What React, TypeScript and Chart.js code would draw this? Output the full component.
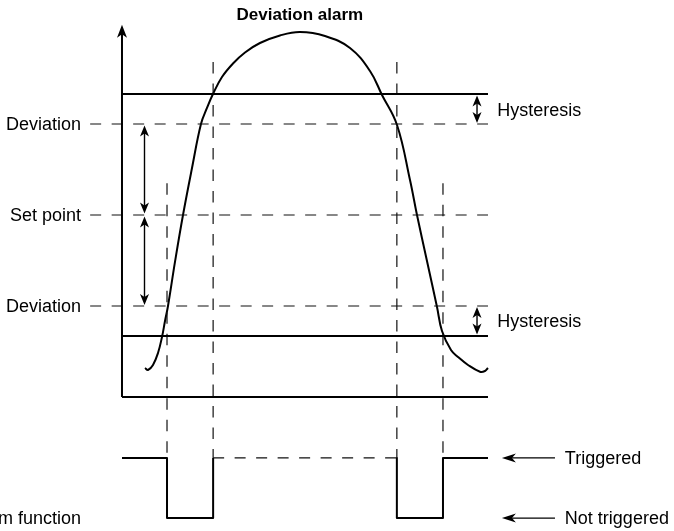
import { useEffect, useRef } from 'react';
import { Chart, registerables } from 'chart.js';

Chart.register(...registerables);

// ---- data (time units on x, process value units on y; set point = 0, deviation = 1) ----
const SET_POINT = 0;
const DEVIATION = 1;
const HYSTERESIS = 0.33;
const AXIS_BOTTOM = -2;
const AXIS_TOP = 2.09;
const TIME_START = 0;
const TIME_END = 100;
const DASH_START = -8.7;
const OUT_TRIGGERED = -2.67;
const OUT_NOT_TRIGGERED = -3.33;

const eventTimes = [12.3, 24.9, 75.1, 87.7];
const eventLineTops = [0.35, 1.68, 1.68, 0.35];

const curveTime = [6.28, 7.1, 8.47, 9.84, 10.93, 11.75, 12.57, 14.48, 16.67, 19.13, 21.58, 23.22, 24.86, 27.32, 30.33, 33.61, 37.7, 43.17, 48.63, 55.46, 62.3, 67.76, 71.04, 75.14, 78.69, 80.6, 83.33, 86.07, 87.43, 89.89, 91.8, 94.54, 97.81, 99.18, 100];
const curveValue = [-1.681, -1.703, -1.648, -1.516, -1.341, -1.165, -1.0, -0.516, 0, 0.516, 1.0, 1.176, 1.33, 1.516, 1.665, 1.786, 1.89, 1.973, 2.011, 1.967, 1.835, 1.582, 1.319, 0.989, 0.385, 0, -0.505, -1.011, -1.275, -1.484, -1.56, -1.648, -1.722, -1.714, -1.681];

const levelLabels = ['Deviation', 'Set point', 'Deviation'];
const levelValues = [SET_POINT + DEVIATION, SET_POINT, SET_POINT - DEVIATION];

const outputLabels = ['Triggered', 'Not triggered'];
const outputValues = [OUT_TRIGGERED, OUT_NOT_TRIGGERED];

const TITLE = 'Deviation alarm';
const FOOTER = 'Alarm function';

// scale ranges (whole canvas is the plot area)
const X_MIN = -33.33;
const X_MAX = 150.82;
const Y_MIN = -3.4725;
const Y_MAX = 2.3626;

const FONT = '"Liberation Sans", Arial, Helvetica, sans-serif';

const seg = (pts: number[][]) => pts.map(([x, y]) => ({ x, y }));

function arrowHead(ctx: CanvasRenderingContext2D, tx: number, ty: number, dx: number, dy: number, len: number, hw: number) {
  const px = -dy, py = dx;
  const bx = tx - dx * len, by = ty - dy * len;
  const nx = tx - dx * len * 0.72, ny = ty - dy * len * 0.72;
  ctx.beginPath();
  ctx.moveTo(tx, ty);
  ctx.lineTo(bx + px * hw, by + py * hw);
  ctx.lineTo(nx, ny);
  ctx.lineTo(bx - px * hw, by - py * hw);
  ctx.closePath();
  ctx.fill();
}

function vDoubleArrow(ctx: CanvasRenderingContext2D, x: number, y1: number, y2: number, len: number, hw: number) {
  ctx.beginPath();
  ctx.moveTo(x, y1 + 4);
  ctx.lineTo(x, y2 - 4);
  ctx.stroke();
  arrowHead(ctx, x, y1, 0, -1, len, hw);
  arrowHead(ctx, x, y2, 0, 1, len, hw);
}

const overlay = {
  id: 'overlay',
  afterDatasetsDraw(chart: any) {
    const ctx: CanvasRenderingContext2D = chart.ctx;
    const xs = chart.scales.x, ys = chart.scales.y;
    const X = (v: number) => xs.getPixelForValue(v);
    const Y = (v: number) => ys.getPixelForValue(v);
    ctx.save();
    ctx.fillStyle = '#000';
    ctx.strokeStyle = '#000';

    // y-axis arrow head
    arrowHead(ctx, X(TIME_START), Y(AXIS_TOP), 0, -1, 13, 5);

    // deviation arrows
    ctx.lineWidth = 1.4;
    const ax = X(6.15);
    vDoubleArrow(ctx, ax, Y(SET_POINT + DEVIATION) + 1.5, Y(SET_POINT) - 1.5, 11, 4.5);
    vDoubleArrow(ctx, ax, Y(SET_POINT) + 1.5, Y(SET_POINT - DEVIATION) - 1, 11, 4.5);

    // hysteresis arrows
    const hx = X(97.0);
    vDoubleArrow(ctx, hx, Y(SET_POINT + DEVIATION + HYSTERESIS) + 1.5, Y(SET_POINT + DEVIATION) - 1, 11, 4.5);
    vDoubleArrow(ctx, hx, Y(SET_POINT - DEVIATION) + 1, Y(SET_POINT - DEVIATION - HYSTERESIS) - 1.5, 11, 4.5);

    // output arrows
    ctx.lineWidth = 1.3;
    outputValues.forEach((v) => {
      const y = Y(v);
      ctx.beginPath();
      ctx.moveTo(X(118.3), y);
      ctx.lineTo(X(106), y);
      ctx.stroke();
      arrowHead(ctx, X(103.8), y, -1, 0, 14, 4.5);
    });

    // texts
    ctx.font = `18px ${FONT}`;
    ctx.textBaseline = 'middle';
    ctx.textAlign = 'right';
    levelLabels.forEach((t, i) => ctx.fillText(t, X(-11.2), Y(levelValues[i]) + 1));
    ctx.fillText(FOOTER, X(-11.2), Y(OUT_NOT_TRIGGERED) + 1);
    ctx.textAlign = 'left';
    ctx.fillText('Hysteresis', X(102.5), Y(1.155) + 1);
    ctx.fillText('Hysteresis', X(102.5), Y(-1.165) + 1);
    outputLabels.forEach((t, i) => ctx.fillText(t, X(121.0), Y(outputValues[i]) + 1));

    ctx.font = `bold 17px ${FONT}`;
    ctx.textAlign = 'center';
    ctx.fillText(TITLE, X(48.6), Y(2.198));
    ctx.restore();
  },
};

export default function App() {
  const ref = useRef<HTMLCanvasElement>(null);
  useEffect(() => {
    if (!ref.current) return;
    const solid = (data: any[], w = 2) => ({
      data, showLine: true, borderColor: '#000', borderWidth: w, pointRadius: 0, fill: false, tension: 0,
    });
    const dashed = (data: any[], dash = [11, 10.5]) => ({
      data, showLine: true, borderColor: '#111', borderWidth: 1.2, borderDash: dash, pointRadius: 0, fill: false, tension: 0,
    });
    const [t1, t2, t3, t4] = eventTimes;
    const datasets: any[] = [
      solid(seg([[TIME_START, AXIS_BOTTOM], [TIME_START, AXIS_TOP - 0.05]])),
      solid(seg([[TIME_START, AXIS_BOTTOM], [TIME_END, AXIS_BOTTOM]])),
      solid(seg([[TIME_START, SET_POINT + DEVIATION + HYSTERESIS], [TIME_END, SET_POINT + DEVIATION + HYSTERESIS]])),
      solid(seg([[TIME_START, SET_POINT - DEVIATION - HYSTERESIS], [TIME_END, SET_POINT - DEVIATION - HYSTERESIS]])),
      ...levelValues.map((v) => dashed(seg([[DASH_START, v], [TIME_END, v]]))),
      ...eventTimes.map((t, i) => dashed(seg([[t, eventLineTops[i]], [t, OUT_TRIGGERED]]), [11.5, 10])),
      {
        data: curveTime.map((t, i) => ({ x: t, y: curveValue[i] })),
        showLine: true, borderColor: '#000', borderWidth: 2, pointRadius: 0, fill: false,
        tension: 0.4,
      },
      solid(seg([[TIME_START, OUT_TRIGGERED], [t1, OUT_TRIGGERED], [t1, OUT_NOT_TRIGGERED], [t2, OUT_NOT_TRIGGERED], [t2, OUT_TRIGGERED]])),
      dashed(seg([[t2, OUT_TRIGGERED], [t3, OUT_TRIGGERED]])),
      solid(seg([[t3, OUT_TRIGGERED], [t3, OUT_NOT_TRIGGERED], [t4, OUT_NOT_TRIGGERED], [t4, OUT_TRIGGERED], [TIME_END, OUT_TRIGGERED]])),
    ];
    const chart = new Chart(ref.current, {
      type: 'scatter',
      data: { datasets },
      options: {
        animation: false,
        responsive: false,
        devicePixelRatio: 1,
        layout: { padding: 0 },
        plugins: { legend: { display: false }, tooltip: { enabled: false }, title: { display: false } },
        scales: {
          x: { type: 'linear', min: X_MIN, max: X_MAX, display: false },
          y: { type: 'linear', min: Y_MIN, max: Y_MAX, display: false },
        },
        elements: { line: { borderCapStyle: 'butt', borderJoinStyle: 'round' } },
      } as any,
      plugins: [overlay],
    });
    return () => chart.destroy();
  }, []);
  return (
    <div style={{ position: 'fixed', left: 0, top: 0, width: 674, height: 531, background: '#fff' }}>
      <canvas ref={ref} width={674} height={531} style={{ width: 674, height: 531, display: 'block' }} />
    </div>
  );
}
